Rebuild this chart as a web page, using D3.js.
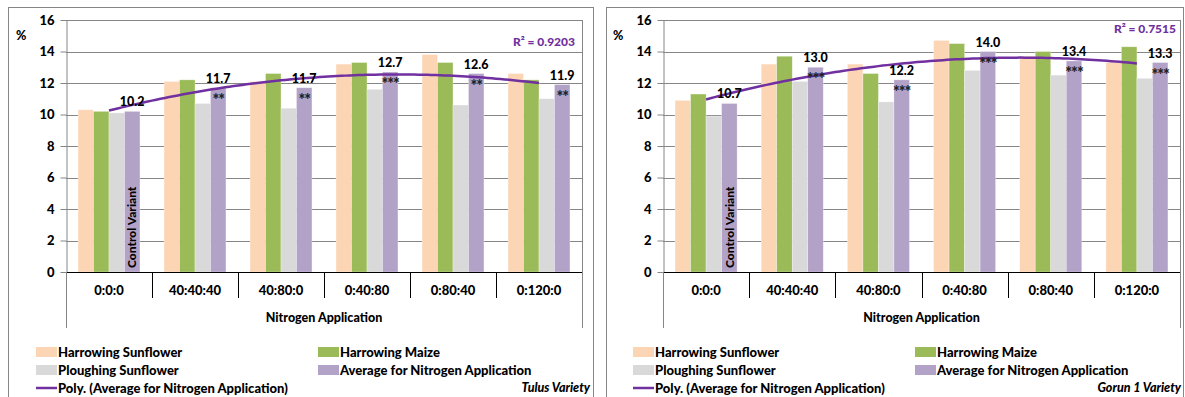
<!DOCTYPE html>
<html>
<head>
<meta charset="utf-8">
<script src="https://cdn.jsdelivr.net/npm/d3@7/dist/d3.min.js"></script>
<style>
body { margin: 0; background: #fff; }
svg { font-family: Lato, "Noto Sans", sans-serif; font-weight: 900; }
</style>
</head>
<body>
<script>
//categories on the x axis
var categories = ["0:0:0", "40:40:40", "40:80:0", "0:40:80", "0:80:40", "0:120:0"];
var seriesNames = ["Harrowing Sunflower", "Harrowing Maize", "Ploughing Sunflower", "Average for Nitrogen Application"];
var seriesColors = ["#fcd5b5", "#9bbb59", "#d9d9d9", "#b3a2c7"];
var yTicks = [0, 2, 4, 6, 8, 10, 12, 14, 16];

//Tulus variety
var tulusHarrowSun = [10.3, 12.1, 12.1, 13.2, 13.8, 12.6];
var tulusHarrowMaize = [10.2, 12.2, 12.6, 13.3, 13.3, 12.2];
var tulusPloughSun = [10.1, 10.7, 10.4, 11.6, 10.6, 11.0];
var tulusAverage = [10.2, 11.7, 11.7, 12.7, 12.6, 11.9];
var tulusStars = ["", "**", "**", "***", "**", "**"];

//Gorun 1 variety
var gorunHarrowSun = [10.9, 13.2, 13.2, 14.7, 13.7, 13.3];
var gorunHarrowMaize = [11.3, 13.7, 12.6, 14.5, 14.0, 14.3];
var gorunPloughSun = [9.9, 12.1, 10.8, 12.8, 12.5, 12.3];
var gorunAverage = [10.7, 13.0, 12.2, 14.0, 13.4, 13.3];
var gorunStars = ["", "***", "***", "***", "***", "***"];

var lineColor = "#7030a0";
var gridColor = "#868686";

var svg = d3.select("body")
    .append("svg")
    .attr("width", 1185)
    .attr("height", 397);

//least squares fit of order 2, like the excel "Poly." trendline
function polyFit2(xs, ys){
    var mx = d3.mean(xs);
    var t = xs.map(function(x){ return x - mx; });
    var mt2 = d3.mean(t, function(v){ return v * v; });
    var u = t.map(function(v){ return v * v - mt2; });
    var my = d3.mean(ys);
    var b = d3.sum(t, function(v, i){ return v * ys[i]; }) / d3.sum(t, function(v){ return v * v; });
    var c = d3.sum(u, function(v, i){ return v * ys[i]; }) / d3.sum(u, function(v){ return v * v; });
    return function(x){
        var tt = x - mx;
        return my + b * tt + c * (tt * tt - mt2);
    };
}

function drawPanel(p){
    var width = p.plotRight - p.plotLeft,
        height = 252;

    //chart frame
    svg.append("rect")
        .attr("x", p.frameX + 0.5)
        .attr("y", 7.5)
        .attr("width", p.frameW)
        .attr("height", 420)
        .attr("fill", "none")
        .attr("stroke", gridColor);

    var g = svg.append("g")
        .attr("transform", "translate(" + p.plotLeft + ",20)");

    var x0 = d3.scaleBand()
        .domain(categories)
        .range([0, width]);
    var x1 = d3.scaleBand()
        .domain(seriesNames)
        .range([x0.bandwidth() * 0.14, x0.bandwidth() * 0.86]);
    var y = d3.scaleLinear()
        .domain([0, 16])
        .range([height, 0]);

    //gridlines
    g.selectAll(".grid")
        .data(yTicks.slice(1))
        .enter()
        .append("line")
        .attr("x1", 0)
        .attr("x2", width)
        .attr("y1", function(d){ return Math.round(y(d)) + 0.5; })
        .attr("y2", function(d){ return Math.round(y(d)) + 0.5; })
        .attr("stroke", gridColor);

    g.append("line")
        .attr("x1", width + 0.5).attr("x2", width + 0.5)
        .attr("y1", 0).attr("y2", height)
        .attr("stroke", gridColor);

    //y axis
    var yAxis = g.append("g")
        .attr("transform", "translate(0.5,0)")
        .call(d3.axisLeft(y).tickValues(yTicks).tickSize(6).tickPadding(6).tickSizeOuter(0));
    yAxis.select(".domain").attr("stroke", gridColor);
    yAxis.selectAll(".tick line").attr("stroke", gridColor);
    yAxis.selectAll(".tick text")
        .attr("fill", "#000")
        .style("font-size", "13px")
        .style("font-family", "Lato, sans-serif")
        .style("font-weight", "900");

    g.append("text")
        .attr("x", p.percentX - p.plotLeft)
        .attr("y", 20)
        .style("font-size", "12.5px")
        .text("%");

    //bars
    var series = [p.harrowSun, p.harrowMaize, p.ploughSun, p.average];
    var rows = [];
    categories.forEach(function(c, i){
        series.forEach(function(s, j){
            rows.push({cat: c, name: seriesNames[j], color: seriesColors[j], value: s[i]});
        });
    });

    g.selectAll(".bar")
        .data(rows)
        .enter()
        .append("rect")
        .attr("class", "bar")
        .attr("x", function(d){ return x0(d.cat) + x1(d.name); })
        .attr("y", function(d){ return y(d.value); })
        .attr("width", x1.bandwidth())
        .attr("height", function(d){ return height - y(d.value); })
        .attr("fill", function(d){ return d.color; })
        .attr("stroke", "#fff")
        .attr("stroke-opacity", 0.5)
        .attr("stroke-width", 0.6);

    //x axis, two levels like excel
    g.append("line")
        .attr("x1", 0).attr("x2", width)
        .attr("y1", height + 0.5).attr("y2", height + 0.5)
        .attr("stroke", "#000");

    var bounds = d3.range(categories.length + 1);
    g.selectAll(".sep")
        .data(bounds)
        .enter()
        .append("line")
        .attr("x1", function(d){ return Math.round(d * x0.step()) + 0.5; })
        .attr("x2", function(d){ return Math.round(d * x0.step()) + 0.5; })
        .attr("y1", height)
        .attr("y2", function(d){ return (d == 0 || d == categories.length) ? height + 56 : height + 26; })
        .attr("stroke", function(d){ return (d == 0 || d == categories.length) ? gridColor : "#000"; });

    g.selectAll(".catLabel")
        .data(categories)
        .enter()
        .append("text")
        .attr("x", function(d){ return x0(d) + x0.bandwidth() / 2; })
        .attr("y", height + 23)
        .attr("text-anchor", "middle")
        .style("font-size", "13px")
        .text(function(d){ return d; });

    g.append("text")
        .attr("x", width / 2)
        .attr("y", height + 50)
        .attr("text-anchor", "middle")
        .style("font-size", "12.5px")
        .text("Nitrogen Application");

    //polynomial trendline through the averages
    var idx = d3.range(1, categories.length + 1);
    var fit = polyFit2(idx, p.average);
    var xi = d3.scaleLinear()
        .domain([1, categories.length])
        .range([x0(categories[0]) + x0.bandwidth() / 2, x0(categories[categories.length - 1]) + x0.bandwidth() / 2]);
    var pts = d3.range(1, categories.length + 0.001, 0.05);
    g.append("path")
        .datum(pts)
        .attr("fill", "none")
        .attr("stroke", lineColor)
        .attr("stroke-width", 2.5)
        .attr("d", d3.line()
            .x(function(d){ return xi(d); })
            .y(function(d){ return y(fit(d)); }));

    //labels on the average bars
    var avgX = function(i){ return x0(categories[i]) + x1(seriesNames[3]) + x1.bandwidth() / 2; };
    g.selectAll(".valLabel")
        .data(p.average)
        .enter()
        .append("text")
        .attr("x", function(d, i){ return avgX(i); })
        .attr("y", function(d){ return y(d) - 5; })
        .attr("text-anchor", "middle")
        .style("font-size", "12.5px")
        .text(d3.format(".1f"));

    g.selectAll(".stars")
        .data(p.stars)
        .enter()
        .append("text")
        .attr("x", function(d, i){ return avgX(i); })
        .attr("y", function(d, i){ return y(p.average[i]) + 18; })
        .attr("text-anchor", "middle")
        .style("font-size", "16px")
        .style("letter-spacing", "-1px")
        .attr("fill", "#222")
        .text(function(d){ return d; });

    g.append("text")
        .attr("transform", "translate(" + avgX(0) + "," + (height - 4) + ") rotate(-90)")
        .attr("dy", "0.35em")
        .style("font-size", "12px")
        .text("Control Variant");

    g.append("text")
        .attr("x", width - p.r2Inset)
        .attr("y", p.r2Y - 20)
        .attr("text-anchor", "end")
        .attr("fill", lineColor)
        .style("font-size", "12px")
        .text("R\u00b2 = " + p.r2);

    //legend
    var legend = svg.append("g")
        .attr("transform", "translate(" + (p.plotLeft - 30) + ",0)");
    var items = [
        {name: seriesNames[0], color: seriesColors[0], col: 0, row: 0},
        {name: seriesNames[1], color: seriesColors[1], col: 1, row: 0},
        {name: seriesNames[2], color: seriesColors[2], col: 0, row: 1},
        {name: seriesNames[3], color: seriesColors[3], col: 1, row: 1},
        {name: "Poly. (Average for Nitrogen Application)", color: lineColor, col: 0, row: 2, line: true}
    ];
    var rowY = [352, 370, 388];
    var item = legend.selectAll(".item")
        .data(items)
        .enter()
        .append("g")
        .attr("transform", function(d){ return "translate(" + (d.col ? 282 : 0) + "," + rowY[d.row] + ")"; });
    item.filter(function(d){ return !d.line; })
        .append("rect")
        .attr("x", 0).attr("y", -5)
        .attr("width", 21).attr("height", 10)
        .attr("fill", function(d){ return d.color; });
    item.filter(function(d){ return d.line; })
        .append("line")
        .attr("x1", 0).attr("x2", 21)
        .attr("stroke", lineColor)
        .attr("stroke-width", 2.5);
    item.append("text")
        .attr("x", 22)
        .attr("dy", "0.35em")
        .style("font-size", "13px")
        .text(function(d){ return d.name; });

    svg.append("text")
        .attr("x", p.varietyX)
        .attr("y", 392)
        .attr("text-anchor", "end")
        .style("font-size", "12.5px")
        .style("font-style", "italic")
        .text(p.variety);
}

drawPanel({
    frameX: 8, frameW: 585, plotLeft: 66, plotRight: 582, percentX: 16,
    harrowSun: tulusHarrowSun, harrowMaize: tulusHarrowMaize, ploughSun: tulusPloughSun,
    average: tulusAverage, stars: tulusStars,
    r2: "0.9203", r2Y: 46, r2Inset: 7,
    variety: "Tulus Variety", varietyX: 590
});

drawPanel({
    frameX: 606, frameW: 577, plotLeft: 663, plotRight: 1180, percentX: 613,
    harrowSun: gorunHarrowSun, harrowMaize: gorunHarrowMaize, ploughSun: gorunPloughSun,
    average: gorunAverage, stars: gorunStars,
    r2: "0.7515", r2Y: 33, r2Inset: 4,
    variety: "Gorun 1 Variety", varietyX: 1181
});
</script>
</body>
</html>
